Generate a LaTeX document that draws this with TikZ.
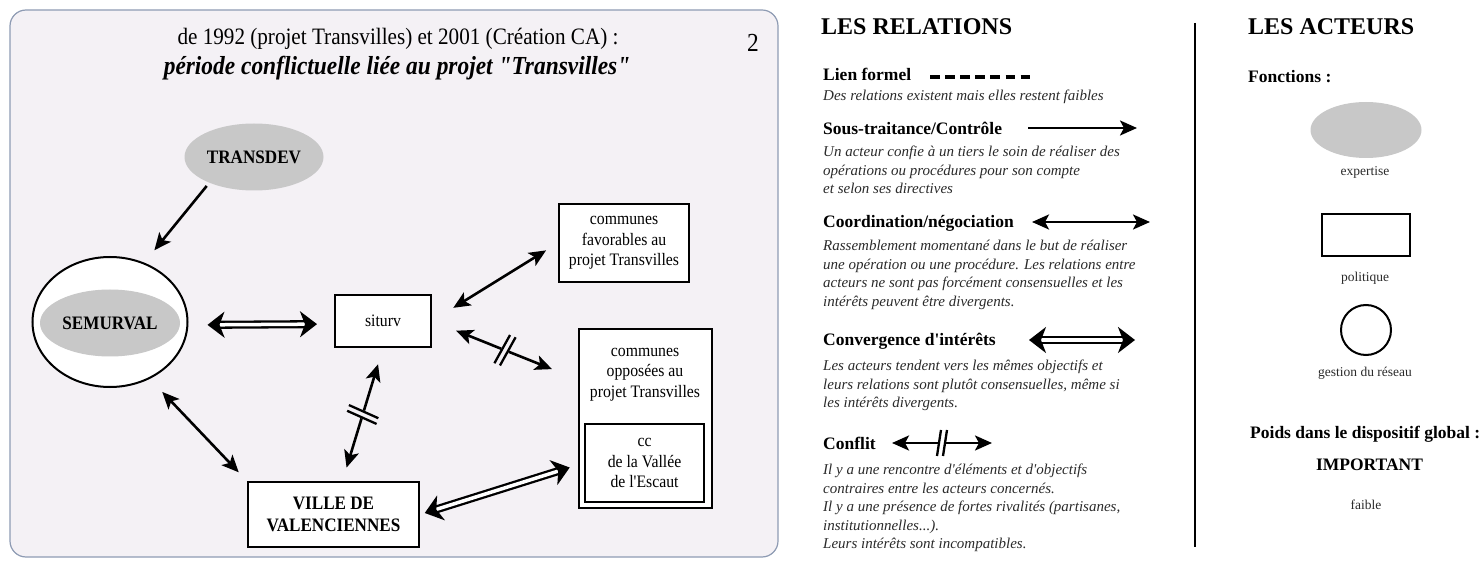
\documentclass[tikz,border=0pt]{standalone}
\usepackage{fontspec}
\setmainfont{Liberation Serif}
\newfontfamily\narrowserif{Liberation Serif}[FakeStretch=0.9]
\usetikzlibrary{positioning,arrows.meta,shapes.geometric,decorations.markings}
\definecolor{cPanel}{HTML}{F4F1F5}
\definecolor{cFrame}{HTML}{8E9BB3}
\definecolor{cGrey}{HTML}{C8C8C8}
\definecolor{cText}{HTML}{2A2A2A}
\newcommand{\acteurfont}{\narrowserif\bfseries\fontsize{19}{22}\selectfont}
\newcommand{\communefont}{\narrowserif\fontsize{17.5}{20.5}\selectfont}
\newcommand{\legfont}{\fontsize{15}{18.5}\selectfont\itshape}

\tikzset{
  pointe/.tip={Stealth[length=17pt,width=15pt,inset=4pt]},
  grosse/.tip={Stealth[length=17pt,width=26pt,inset=5pt]},
  acteur/.style={draw,line width=2pt,fill=white,inner sep=0pt,align=center},
  expert/.style={ellipse,fill=cGrey,inner sep=0pt,align=center},
  souslien/.style={-pointe,line width=2.6pt},
  coordlien/.style={pointe-pointe,line width=2.6pt},
  convlien/.style={grosse-grosse,double,double distance=3.5pt,line width=2.3pt},
  conflitlien/.style 2 args={coordlien,postaction={decorate},
    decoration={markings,mark=at position 0.5 with {
      \fill[#1] (-4pt,-2pt) rectangle (4pt,2pt);
      \draw[-,shorten <=0pt,shorten >=0pt,line width=2.3pt]
        (-5pt,-#2) -- (-1pt,#2) (1pt,-#2) -- (5pt,#2);}}},
  titre/.style={font=\bfseries\fontsize{24}{28}\selectfont,anchor=base west,inner sep=0pt},
  rubrique/.style={font=\bfseries\fontsize{17.5}{21}\selectfont,anchor=base west,inner sep=0pt},
  texte/.style={font=\legfont,text=cText,anchor=north west,align=left,inner sep=0pt},
  petit/.style={font=\fontsize{13.5}{16}\selectfont,text=cText,inner sep=0pt}
}

\begin{document}
\begin{tikzpicture}[x=1pt,y=-1pt]
  \useasboundingbox (0,0) rectangle (1484,561);
  % periode 2
  \draw[draw=cFrame,fill=cPanel,line width=1.2pt,rounded corners=16pt] (10,10) rectangle (778,557);
  \node[font=\narrowserif\fontsize{23.5}{28}\selectfont] (titre1) at (398,39) {de 1992 (projet Transvilles) et 2001 (Création CA) :};
  \node[font=\narrowserif\bfseries\itshape\fontsize{26}{30}\selectfont] (titre2) at (397,68) {période conflictuelle liée au projet "Transvilles"};
  \node[font=\narrowserif\fontsize{26}{30}\selectfont] (numero) at (753,43) {2};

  \node[expert,minimum width=139pt,minimum height=67pt,font=\acteurfont] (transdev) at (254,157) {TRANSDEV};
  \node[acteur,ellipse,minimum width=155pt,minimum height=130pt] (semurval) at (110,322) {};
  \node[expert,minimum width=140pt,minimum height=67pt,font=\acteurfont] (semurvalcore) at (110,323) {SEMURVAL};
  \node[acteur,minimum width=96pt,minimum height=52pt,font=\communefont] (siturv) at (383,321) {siturv};
  \node[acteur,minimum width=130pt,minimum height=78pt,font=\communefont] (favorables) at (624,243) {communes\\favorables au\\projet Transvilles};
  \node[acteur,minimum width=133pt,minimum height=179pt] (opposees) at (645.5,418.5) {};
  \node[font=\communefont,align=center] (opptexte) at (645,374.5) {communes\\opposées au\\projet Transvilles};
  \node[acteur,minimum width=119pt,minimum height=78pt,font=\communefont] (cc) at (644.5,463) {cc\\de la Vallée\\de l'Escaut};
  \node[acteur,minimum width=171pt,minimum height=65pt,font=\acteurfont] (ville) at (333.5,514.5) {VILLE DE\\VALENCIENNES};

  \draw[souslien,shorten <=4pt,shorten >=16pt] (transdev.210) -- (semurval.60);
  \draw[convlien,shorten <=19pt,shorten >=17pt] ([yshift=-3pt]semurval.east) -- ([yshift=-3pt]siturv.west);
  \draw[coordlien,shorten <=18pt,shorten >=12pt] (semurval.-55) -- (ville.north west);
  \draw[coordlien,shorten <=25pt,shorten >=14pt] (siturv.east) -- (favorables.west);
  \draw[conflitlien={cPanel}{16pt},shorten <=26pt,shorten >=28pt] (siturv.east) -- (opposees.150);
  \draw[conflitlien={cPanel}{16pt},shorten <=17pt,shorten >=14pt] (siturv.south) -- (ville.75);
  \draw[convlien,shorten <=5pt,shorten >=15pt] (ville.east) -- (cc.west);

  % les relations
  \node[titre] (relations) at (821,35) {LES RELATIONS};
  \node[rubrique] (lien) at (823,81) {Lien formel};
  \coordinate (lien1) at (930,77);
  \coordinate (lien2) at (1030,77);
  \draw[line width=4pt,dash pattern=on 9.5pt off 5.6pt] (lien1) -- (lien2);
  \node[texte] (liendesc) at (823,90) {Des relations existent mais elles restent faibles};

  \node[rubrique] (sous) at (823,135) {Sous-traitance/Contrôle};
  \coordinate (sous1) at (1028,128);
  \coordinate (sous2) at (1137,128);
  \draw[souslien] (sous1) -- (sous2);
  \node[texte] (sousdesc) at (823,146) {Un acteur confie à un tiers le soin de réaliser des\\opérations ou procédures pour son compte\\et selon ses directives};

  \node[rubrique] (coord) at (823,228) {Coordination/négociation};
  \coordinate (coord1) at (1032,222);
  \coordinate (coord2) at (1150,222);
  \draw[coordlien] (coord1) -- (coord2);
  \node[texte] (coorddesc) at (823,240) {Rassemblement momentané dans le but de réaliser\\une opération ou une procédure. Les relations entre\\acteurs ne sont pas forcément consensuelles et les\\intérêts peuvent être divergents.};

  \node[rubrique] (conv) at (823,346) {Convergence d\textquotesingle intérêts};
  \coordinate (conv1) at (1029,340);
  \coordinate (conv2) at (1135,340);
  \draw[convlien] (conv1) -- (conv2);
  \node[texte] (convdesc) at (823,360) {Les acteurs tendent vers les mêmes objectifs et\\leurs relations sont plutôt consensuelles, même si\\les intérêts divergents.};

  \node[rubrique] (conflit) at (823,449) {Conflit};
  \coordinate (conflit1) at (892,443);
  \coordinate (conflit2) at (992,443);
  \draw[conflitlien={white}{13pt}] (conflit1) -- (conflit2);
  \node[texte] (conflitdesc) at (823,464) {Il y a une rencontre d\textquotesingle éléments et d\textquotesingle objectifs\\contraires entre les acteurs concernés.\\Il y a une présence de fortes rivalités (partisanes,\\institutionnelles...).\\Leurs intérêts sont incompatibles.};

  % les acteurs
  \draw[line width=1.6pt] (1195,23) -- (1195,547);
  \node[titre] (acteurs) at (1248,35) {LES ACTEURS};
  \node[rubrique] (fonctions) at (1248,83) {Fonctions :};
  \node[expert,minimum width=111pt,minimum height=56pt] (legexpert) at (1366,130) {};
  \node[petit] (lexpertise) at (1365,172) {expertise};
  \node[acteur,minimum width=88pt,minimum height=42pt] (legpol) at (1365.5,235) {};
  \node[petit] (lpolitique) at (1365,278) {politique};
  \node[acteur,circle,minimum size=50pt] (legres) at (1366,330) {};
  \node[petit] (lreseau) at (1365,373) {gestion du réseau};
  \node[rubrique] (poids) at (1250,438) {Poids dans le dispositif global :};
  \node[rubrique,anchor=base] (important) at (1369.5,470) {IMPORTANT};
  \node[petit] (faible) at (1366,505) {faible};
\end{tikzpicture}
\end{document}
